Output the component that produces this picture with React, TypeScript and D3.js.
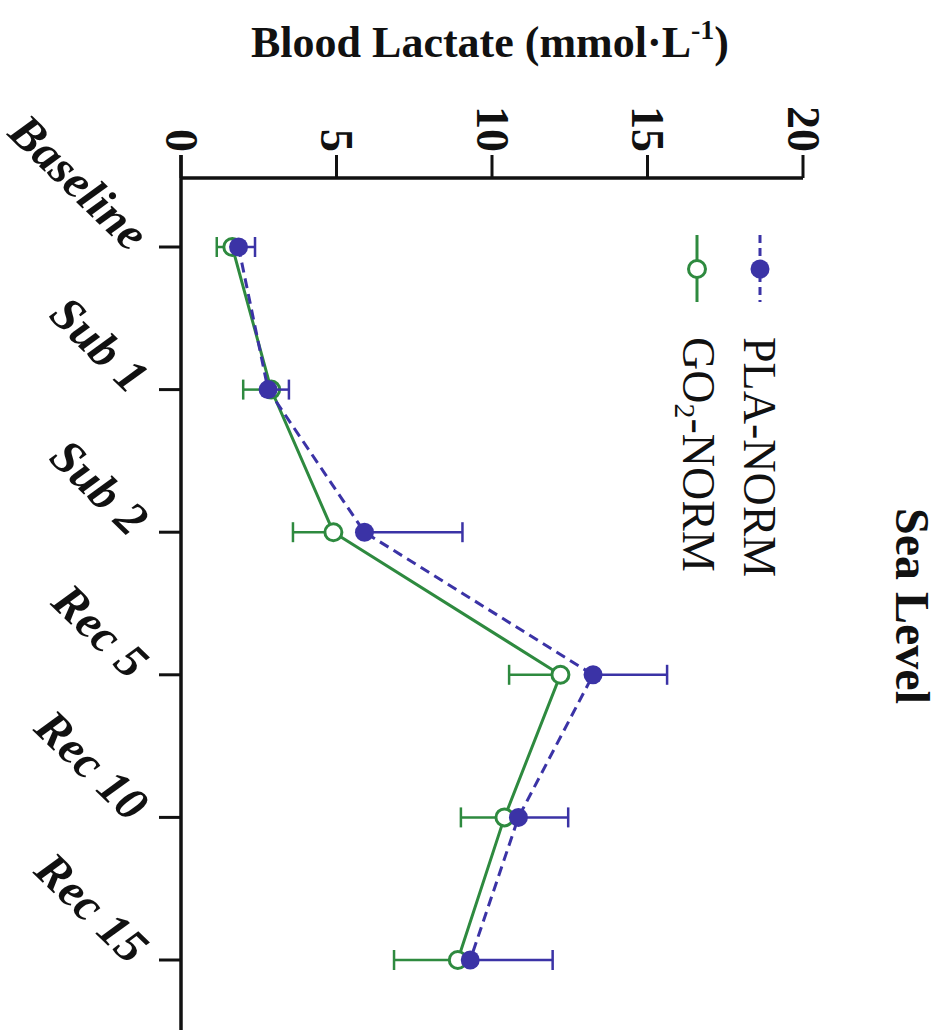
import React from "react";
import * as d3 from "d3";

// Time points along the protocol
const categories: string[] = ["Baseline", "Sub 1", "Sub 2", "Rec 5", "Rec 10", "Rec 15"];

// PLA-NORM: mean blood lactate and error (drawn upward)
const plaMean: number[] = [1.85, 2.8, 5.9, 13.25, 10.85, 9.3];
const plaErr: number[] = [0.53, 0.67, 3.15, 2.38, 1.6, 2.65];

// GO2-NORM: mean blood lactate and error (drawn downward)
const goMean: number[] = [1.65, 2.9, 4.9, 12.2, 10.4, 8.9];
const goErr: number[] = [0.5, 0.9, 1.3, 1.65, 1.4, 2.05];

const valueTicks: number[] = [0, 5, 10, 15, 20];

const W = 943;
const H = 1030;
const BLUE = "#3b33a6";
const GREEN = "#2e8a3f";
const FONT = "'Liberation Serif', 'Times New Roman', serif";

export default function App() {
  // The figure is laid out sideways: value runs left→right, time points run top→bottom.
  const x = d3.scaleLinear().domain([0, 20]).range([181, 803]);
  const y = d3.scalePoint<string>().domain(categories).range([247, 960]);

  const lineGen = (vals: number[]) =>
    d3
      .line<number>()
      .x((v) => x(v))
      .y((_, i) => y(categories[i]) as number)(vals) as string;

  const capHalf = 10;

  return (
    <svg
      width={W}
      height={H}
      style={{ position: "absolute", left: 0, top: 0, display: "block", background: "#fff" }}
      fontFamily={FONT}
    >
      <rect width={W} height={H} fill="#fff" />

      {/* Value axis title */}
      <text x={490} y={57} textAnchor="middle" fontSize={44} fontWeight="bold" fill="#111">
        Blood Lactate (mmol·L
        <tspan fontSize={28} dy={-18}>-1</tspan>
        <tspan dy={18}>)</tspan>
      </text>

      {/* Panel title */}
      <text
        transform={`translate(896,606) rotate(90)`}
        textAnchor="middle"
        fontSize={48}
        fontWeight="bold"
        fill="#111"
      >
        Sea Level
      </text>

      {/* Value axis */}
      <line x1={x(0)} x2={x(20)} y1={178} y2={178} stroke="#111" strokeWidth={3.5} />
      {valueTicks.map((t) => (
        <g key={t}>
          <line x1={x(t)} x2={x(t)} y1={178} y2={155} stroke="#111" strokeWidth={3} />
          <text
            transform={`translate(${x(t)},152) rotate(90)`}
            textAnchor="end"
            dominantBaseline="central"
            fontSize={46}
            fontWeight="bold"
            fill="#111"
          >
            {t}
          </text>
        </g>
      ))}

      {/* Category axis */}
      <line x1={x(0)} x2={x(0)} y1={155} y2={H} stroke="#111" strokeWidth={3.5} />
      {categories.map((c) => {
        const yc = y(c) as number;
        return (
          <g key={c}>
            <line x1={x(0) - 22} x2={x(0)} y1={yc} y2={yc} stroke="#111" strokeWidth={3} />
            <text
              transform={`translate(129,${yc + 6}) rotate(44)`}
              textAnchor="end"
              fontSize={48}
              fontWeight="bold"
              fontStyle="italic"
              fill="#111"
            >
              {c}
            </text>
          </g>
        );
      })}

      {/* GO2-NORM series */}
      <g>
        {goMean.map((m, i) => {
          const yc = y(categories[i]) as number;
          const lo = x(m - goErr[i]);
          return (
            <g key={i}>
              <line x1={x(m)} x2={lo} y1={yc} y2={yc} stroke={GREEN} strokeWidth={2.5} />
              <line x1={lo} x2={lo} y1={yc - capHalf} y2={yc + capHalf} stroke={GREEN} strokeWidth={2.5} />
            </g>
          );
        })}
        <path d={lineGen(goMean)} fill="none" stroke={GREEN} strokeWidth={3} />
        {goMean.map((m, i) => (
          <circle
            key={i}
            cx={x(m)}
            cy={y(categories[i]) as number}
            r={8.5}
            fill="#fff"
            stroke={GREEN}
            strokeWidth={3}
          />
        ))}
      </g>

      {/* PLA-NORM series */}
      <g>
        {plaMean.map((m, i) => {
          const yc = y(categories[i]) as number;
          const hi = x(m + plaErr[i]);
          return (
            <g key={i}>
              <line x1={x(m)} x2={hi} y1={yc} y2={yc} stroke={BLUE} strokeWidth={2.5} />
              <line x1={hi} x2={hi} y1={yc - capHalf} y2={yc + capHalf} stroke={BLUE} strokeWidth={2.5} />
            </g>
          );
        })}
        <path d={lineGen(plaMean)} fill="none" stroke={BLUE} strokeWidth={3} strokeDasharray="10,6" />
        {plaMean.map((m, i) => (
          <circle key={i} cx={x(m)} cy={y(categories[i]) as number} r={9.5} fill={BLUE} />
        ))}
      </g>

      {/* Legend */}
      <g>
        <line x1={760} x2={760} y1={235} y2={302} stroke={BLUE} strokeWidth={3} strokeDasharray="8,5" />
        <circle cx={760} cy={269} r={9.5} fill={BLUE} />
        <text transform="translate(744,337) rotate(90)" fontSize={46} fill="#111">
          PLA-NORM
        </text>

        <line x1={697} x2={697} y1={235} y2={302} stroke={GREEN} strokeWidth={3} />
        <circle cx={697} cy={269} r={8.5} fill="#fff" stroke={GREEN} strokeWidth={3} />
        <text transform="translate(683,337) rotate(90)" fontSize={46} fill="#111">
          GO
          <tspan fontSize={30} dy={8}>2</tspan>
          <tspan dy={-8}>-NORM</tspan>
        </text>
      </g>
    </svg>
  );
}
